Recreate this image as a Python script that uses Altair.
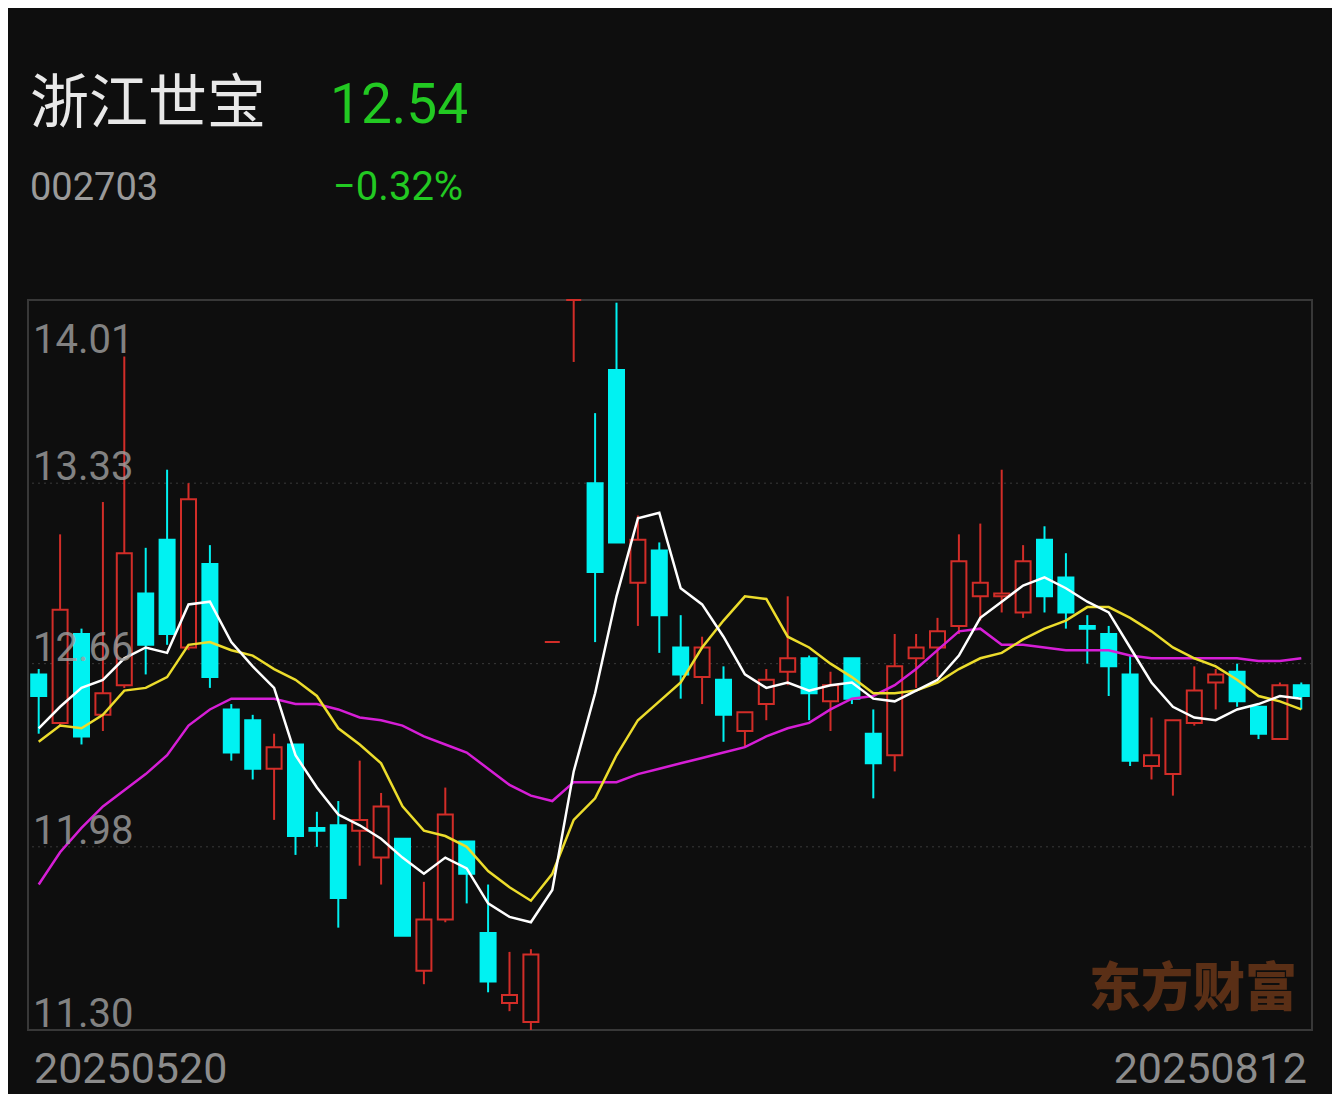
import altair as alt
import pandas as pd

# ---------------- data ----------------
stock_name = "浙江世宝"
stock_code = "002703"
last_price = "12.54"
change_pct = "−0.32%"
start_date = "20250520"
end_date = "20250812"

opens = [12.62, 12.44, 12.77, 12.47, 12.58, 12.92, 13.12, 12.72, 13.03, 12.49,
         12.45, 12.27, 12.36, 12.05, 12.06, 12.04, 11.94, 12.01, 11.52, 11.71,
         12.00, 11.66, 11.40, 11.33, 12.74, 14.01, 13.33, 13.75, 12.96, 13.08,
         12.72, 12.61, 12.60, 12.41, 12.51, 12.63, 12.68, 12.52, 12.68, 12.40,
         12.32, 12.68, 12.72, 12.80, 12.91, 12.91, 12.85, 13.12, 12.98, 12.80,
         12.77, 12.62, 12.28, 12.25, 12.44, 12.59, 12.63, 12.50, 12.38, 12.58]
highs = [12.64, 13.14, 12.79, 13.26, 13.80, 13.09, 13.38, 13.33, 13.10, 12.51,
         12.47, 12.40, 12.36, 12.11, 12.15, 12.30, 12.18, 12.01, 11.85, 12.20,
         12.00, 11.84, 11.59, 11.60, 12.74, 14.01, 13.59, 14.00, 13.21, 13.11,
         12.84, 12.76, 12.65, 12.48, 12.64, 12.91, 12.69, 12.63, 12.68, 12.49,
         12.77, 12.77, 12.83, 13.14, 13.18, 13.38, 13.10, 13.17, 13.07, 12.84,
         12.80, 12.69, 12.46, 12.45, 12.65, 12.64, 12.66, 12.50, 12.59, 12.59]
lows = [12.40, 12.43, 12.36, 12.41, 12.57, 12.62, 12.73, 12.71, 12.57, 12.30,
        12.23, 12.08, 11.95, 11.98, 11.68, 11.91, 11.84, 11.65, 11.47, 11.70,
        11.77, 11.44, 11.37, 11.30, 12.74, 13.78, 12.74, 13.11, 12.80, 12.70,
        12.53, 12.51, 12.37, 12.35, 12.45, 12.58, 12.45, 12.41, 12.51, 12.16,
        12.26, 12.57, 12.61, 12.77, 12.82, 12.85, 12.83, 12.85, 12.79, 12.66,
        12.54, 12.28, 12.23, 12.17, 12.43, 12.49, 12.50, 12.38, 12.38, 12.49]
closes = [12.54, 12.86, 12.39, 12.55, 13.07, 12.73, 12.77, 13.27, 12.61, 12.33,
          12.27, 12.35, 12.02, 12.04, 11.79, 12.08, 12.13, 11.65, 11.71, 12.10,
          11.88, 11.48, 11.43, 11.58, 12.74, 14.01, 13.00, 13.11, 13.12, 12.84,
          12.62, 12.72, 12.47, 12.48, 12.60, 12.68, 12.55, 12.58, 12.53, 12.29,
          12.65, 12.72, 12.78, 13.04, 12.96, 12.92, 13.04, 12.91, 12.85, 12.79,
          12.65, 12.30, 12.32, 12.45, 12.56, 12.62, 12.52, 12.40, 12.58, 12.54]
ma5 = [12.42, 12.50, 12.57, 12.60, 12.68, 12.72, 12.70, 12.88, 12.89, 12.74,
       12.65, 12.57, 12.32, 12.20, 12.10, 12.06, 12.01, 11.94, 11.88, 11.94,
       11.90, 11.77, 11.72, 11.70, 11.82, 12.26, 12.55, 12.91, 13.20, 13.22,
       12.94, 12.88, 12.76, 12.62, 12.57, 12.59, 12.56, 12.58, 12.59, 12.53,
       12.52, 12.56, 12.60, 12.69, 12.83, 12.89, 12.95, 12.98, 12.94, 12.89,
       12.85, 12.72, 12.59, 12.50, 12.46, 12.45, 12.49, 12.51, 12.54, 12.53]
ma10 = [12.37, 12.43, 12.42, 12.47, 12.56, 12.57, 12.61, 12.73, 12.74, 12.71,
        12.69, 12.64, 12.60, 12.54, 12.42, 12.36, 12.29, 12.13, 12.04, 12.02,
        11.98, 11.89, 11.83, 11.78, 11.88, 12.08, 12.16, 12.32, 12.45, 12.52,
        12.59, 12.72, 12.82, 12.91, 12.90, 12.76, 12.72, 12.66, 12.61, 12.55,
        12.55, 12.56, 12.59, 12.64, 12.68, 12.70, 12.75, 12.79, 12.82, 12.87,
        12.87, 12.83, 12.78, 12.72, 12.68, 12.65, 12.60, 12.54, 12.52, 12.49]
ma20 = [11.84, 11.96, 12.05, 12.13, 12.19, 12.25, 12.32, 12.43, 12.49, 12.53,
        12.53, 12.53, 12.51, 12.51, 12.49, 12.46, 12.45, 12.43, 12.39, 12.36,
        12.33, 12.27, 12.21, 12.17, 12.15, 12.22, 12.22, 12.22, 12.25, 12.27,
        12.29, 12.31, 12.33, 12.35, 12.39, 12.42, 12.44, 12.49, 12.53, 12.54,
        12.58, 12.64, 12.71, 12.78, 12.79, 12.73, 12.73, 12.72, 12.71, 12.71,
        12.71, 12.69, 12.68, 12.68, 12.68, 12.68, 12.68, 12.67, 12.67, 12.68]
# the two cross candles (doji) closed a hair lower than they opened
closes[13] = 12.04
closes[49] = 12.79

y_ticks = [14.01, 13.33, 12.66, 11.98, 11.30]
grid_ticks = [13.33, 12.66, 11.98]

# ---------------- style ----------------
BG = "#0e0e0e"
RED = "#d22d28"
CYAN = "#00f2f2"
GREEN = "#22c922"
W, H = 1284, 730

n = len(opens)
df = pd.DataFrame({
    "i": list(range(n)),
    "open": opens, "high": highs, "low": lows, "close": closes,
    "ma5": ma5, "ma10": ma10, "ma20": ma20,
})
df["up"] = df["close"] >= df["open"]

xenc = alt.X("i:O", scale=alt.Scale(type="band", domain=list(range(n)),
                                    paddingInner=0, paddingOuter=0), axis=None)
yscale = alt.Scale(domain=[11.30, 14.01], nice=False, zero=False)

base = alt.Chart(df)

grid = alt.Chart(pd.DataFrame({"v": grid_ticks})).mark_rule(
    color="#3a3a3a", strokeWidth=1, strokeDash=[2, 4]
).encode(y=alt.Y("v:Q", scale=yscale, axis=None))

wicks = base.mark_rule(strokeWidth=2).encode(
    x=xenc,
    y=alt.Y("low:Q", scale=yscale, axis=None),
    y2="high:Q",
    color=alt.condition("datum.up", alt.value(RED), alt.value(CYAN)),
)

bodies = base.mark_bar(size=15, strokeWidth=2).encode(
    x=xenc,
    y=alt.Y("open:Q", scale=yscale, axis=None),
    y2="close:Q",
    fill=alt.condition("datum.up", alt.value(BG), alt.value(CYAN)),
    stroke=alt.condition("datum.up", alt.value(RED), alt.value(CYAN)),
)

line20 = base.mark_line(color="#d61ed6", strokeWidth=2.5).encode(
    x=xenc, y=alt.Y("ma20:Q", scale=yscale, axis=None))
line10 = base.mark_line(color="#ecdc2c", strokeWidth=2.5).encode(
    x=xenc, y=alt.Y("ma10:Q", scale=yscale, axis=None))
line5 = base.mark_line(color="#ffffff", strokeWidth=2.5).encode(
    x=xenc, y=alt.Y("ma5:Q", scale=yscale, axis=None))

# y labels drawn inside the plot, on the left
tick_df = pd.DataFrame({"v": y_ticks, "t": [f"{v:.2f}" for v in y_ticks]})
top_lab = alt.Chart(tick_df.iloc[:1]).mark_text(
    align="left", baseline="top", dx=0, dy=21, font="Roboto", fontSize=40,
    color="#a0a0a0", opacity=0.8
).encode(x=alt.value(5), y=alt.Y("v:Q", scale=yscale, axis=None), text="t:N")
other_lab = alt.Chart(tick_df.iloc[1:]).mark_text(
    align="left", baseline="alphabetic", dy=-3, font="Roboto", fontSize=40,
    color="#a0a0a0", opacity=0.8
).encode(x=alt.value(5), y=alt.Y("v:Q", scale=yscale, axis=None), text="t:N")


def label(txt, x, y, size, color, font="Roboto", align="left",
          baseline="alphabetic", weight="normal", opacity=1.0):
    return alt.Chart(pd.DataFrame({"t": [txt]})).mark_text(
        align=align, baseline=baseline, font=font, fontSize=size,
        color=color, fontWeight=weight, opacity=opacity
    ).encode(x=alt.value(x), y=alt.value(y), text="t:N")


header = [
    label(stock_name, 2, -177, 59, "#e8e8e8", font="Noto Sans CJK SC"),
    label(last_price, 302, -177, 55, GREEN),
    label(stock_code, 2, -100, 38, "#9a9a9a"),
    label(change_pct, 305, -100, 40, GREEN),
    label(start_date, 6, 783, 43, "#8c8c8c"),
    label(end_date, 1279, 783, 43, "#8c8c8c", align="right"),
    label("东方财富", 1061, 690, 52, "#5a2f16", font="Noto Sans CJK SC",
          baseline="middle", weight=900),
]

chart = alt.layer(
    grid, *header[6:], wicks, bodies, line20, line10, line5,
    top_lab, other_lab, *header[:6]
).properties(
    width=W, height=H,
    background=BG,
    padding={"left": 20, "top": 292, "right": 20, "bottom": 64},
    autosize=alt.AutoSizeParams(type="none"),
).configure_view(stroke="#383838", strokeWidth=2)

chart.save("out.html", embed_options={"renderer": "svg", "actions": False})
